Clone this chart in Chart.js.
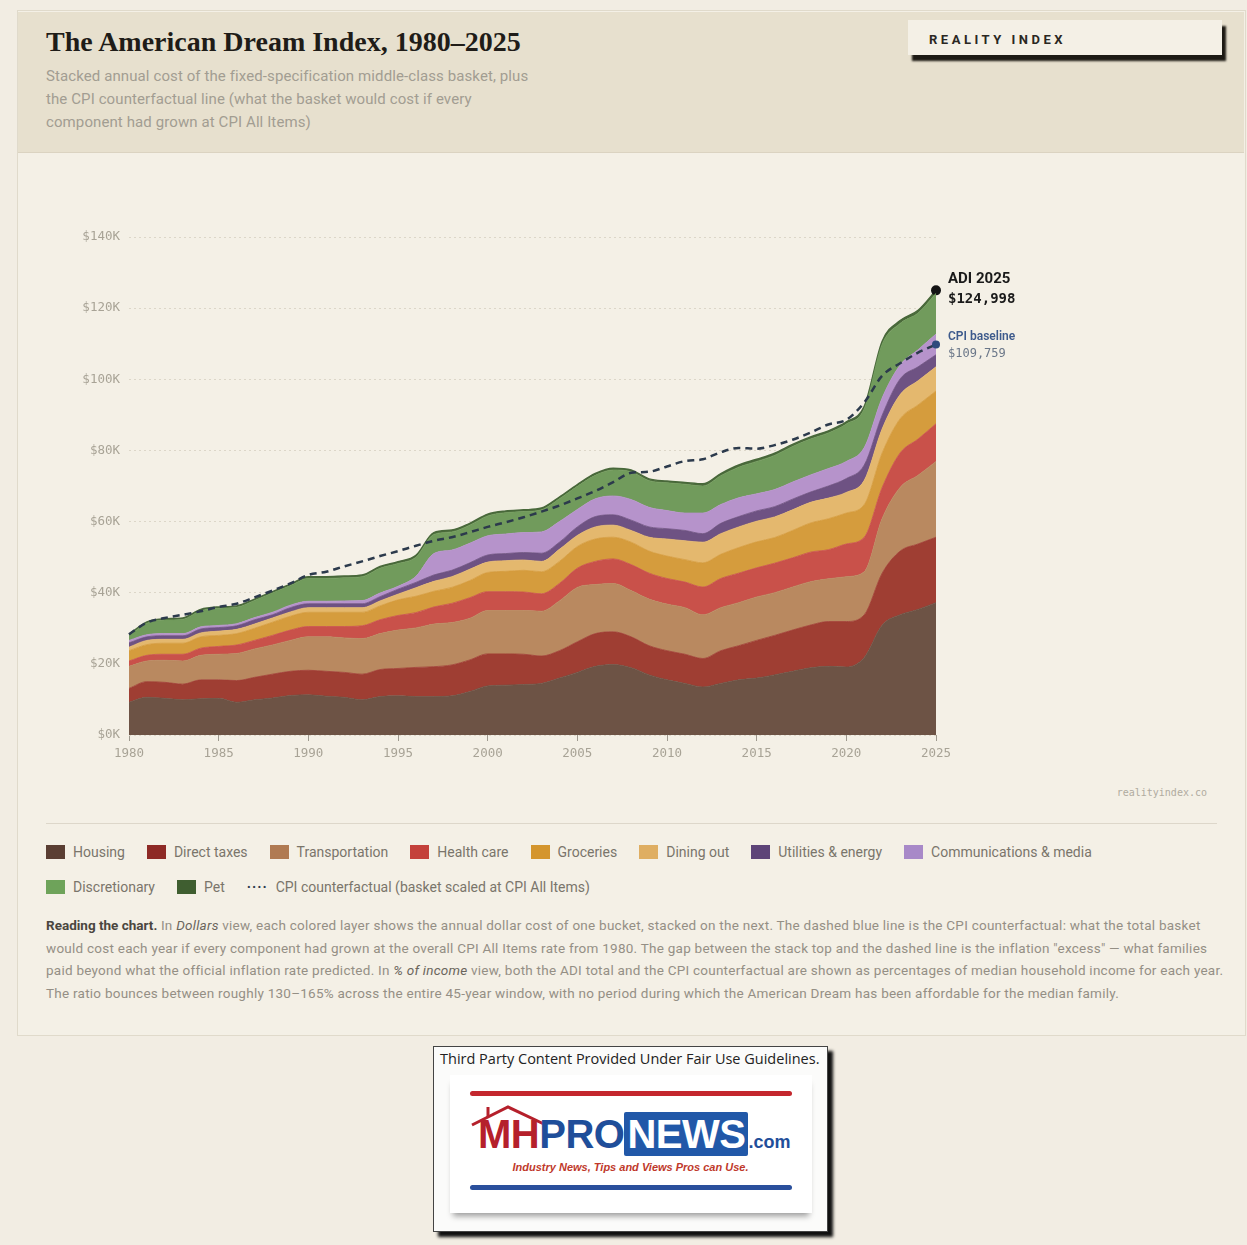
<!DOCTYPE html>
<html>
<head>
<meta charset="utf-8">
<script src="https://cdn.jsdelivr.net/npm/chart.js@4.4.1/dist/chart.umd.min.js"></script>
<style>
  html,body{margin:0;padding:0;}
  body{width:1247px;height:1245px;overflow:hidden;background:#f2ede3;position:relative;font-family:Roboto,"Noto Sans",sans-serif;}
  .abs{position:absolute;}
  #card{left:17px;top:10px;width:1227px;height:1024px;background:#f4f0e6;border:1px solid #e0dacb;}
  #header{left:18px;top:12px;width:1226px;height:140px;background:#e7e0ce;border-bottom:1px solid #dbd3c1;}
  #title{left:46px;top:26px;font-family:"Liberation Serif",serif;font-weight:bold;font-size:28px;line-height:32px;color:#1f1c18;white-space:nowrap;}
  #subtitle{left:46px;top:65px;font-size:15px;line-height:23px;letter-spacing:0.1px;color:#a29d92;white-space:nowrap;}
  #badge{left:908px;top:20px;width:314px;height:35px;background:#f4f0e6;box-shadow:4px 6px 2px #1d1a14;}
  #badge span{position:absolute;left:21px;top:2px;line-height:35px;font-weight:bold;font-size:13px;letter-spacing:3.5px;color:#2a2722;}
  #chartWrap{left:17px;top:160px;width:1228px;height:620px;}
  #src{right:40px;top:787px;font-family:"DejaVu Sans Mono",monospace;font-size:10px;color:#b0ab9f;}
  #sep{left:46px;top:823px;width:1171px;height:1px;background:#ddd7ca;}
  .legrow{left:46px;display:flex;align-items:center;gap:22px;font-size:14px;color:#7a756b;white-space:nowrap;}
  .legitem{display:flex;align-items:center;}
  .sw{width:19px;height:14px;margin-right:8px;}
  .dots{font-weight:bold;letter-spacing:1px;margin-right:8px;color:#2c3a4c;}
  #reading{left:46px;top:914px;font-size:13.5px;letter-spacing:0.25px;line-height:22.7px;color:#948f85;white-space:nowrap;}
  #reading b{color:#4a463f;letter-spacing:0;}
  #reading i{color:#6a655c;}
  #logo{left:433px;top:1046px;width:393px;height:184px;background:#fbfbfa;border:1px solid #444;box-shadow:5px 5px 3px #111;}
</style>
</head>
<body>
<div id="card" class="abs"></div>
<div id="header" class="abs"></div>
<div id="title" class="abs">The American Dream Index, 1980–2025</div>
<div id="subtitle" class="abs">Stacked annual cost of the fixed-specification middle-class basket, plus<br>the CPI counterfactual line (what the basket would cost if every<br>component had grown at CPI All Items)</div>
<div id="badge" class="abs"><span>REALITY INDEX</span></div>
<div id="chartWrap" class="abs"><canvas id="c" width="1228" height="620" style="width:1228px;height:620px;"></canvas></div>
<div id="src" class="abs">realityindex.co</div>
<div id="sep" class="abs"></div>
<div id="leg1" class="abs legrow" style="top:843px;height:18px;"></div>
<div id="leg2" class="abs legrow" style="top:878px;height:18px;"></div>
<div id="reading" class="abs">
<b>Reading the chart.</b> In <i>Dollars</i> view, each colored layer shows the annual dollar cost of one bucket, stacked on the next. The dashed blue line is the CPI counterfactual: what the total basket<br>
would cost each year if every component had grown at the overall CPI All Items rate from 1980. The gap between the stack top and the dashed line is the inflation "excess" — what families<br>
paid beyond what the official inflation rate predicted. In <i>% of income</i> view, both the ADI total and the CPI counterfactual are shown as percentages of median household income for each year.<br>
The ratio bounces between roughly 130–165% across the entire 45-year window, with no period during which the American Dream has been affordable for the median family.
</div>

<div id="logo" class="abs">
  <div class="abs" style="left:6px;top:2px;font-family:'Open Sans',sans-serif;font-size:14.5px;color:#222;white-space:nowrap;">Third Party Content Provided Under Fair Use Guidelines.</div>
  <div class="abs" style="left:16px;top:28px;width:362px;height:138px;background:#fff;box-shadow:0 6px 6px -3px #9a9a9a;"></div>
  <div class="abs" style="left:36px;top:44px;width:322px;height:5px;background:#c4272e;border-radius:3px;"></div>
  <svg class="abs" style="left:34px;top:52px;" width="90" height="30" viewBox="0 0 90 30">
    <polyline points="4,26 40,8 78,26" fill="none" stroke="#b5202b" stroke-width="3"/>
    <line x1="20" y1="18" x2="20" y2="8" stroke="#b5202b" stroke-width="3"/>
  </svg>
  <div class="abs" style="left:44px;top:64px;font-family:'Liberation Sans',sans-serif;font-weight:bold;font-size:40px;line-height:46px;white-space:nowrap;letter-spacing:-0.5px;">
    <span style="color:#b5202b;">MH</span><span style="color:#1f4e9a;">PRO</span><span style="color:#fff;background:#2158a8;padding:0 3px;border-radius:2px;">NEWS</span><span style="color:#1f4e9a;font-size:18px;letter-spacing:0;">.com</span>
  </div>
  <div class="abs" style="left:0;width:393px;top:114px;text-align:center;font-family:'Liberation Sans',sans-serif;font-style:italic;font-weight:bold;font-size:11px;color:#c0392b;">Industry News, Tips and Views Pros can Use.</div>
  <div class="abs" style="left:36px;top:138px;width:322px;height:5px;background:#2a4f9c;border-radius:3px;"></div>
</div>

<script>
// ---- Data (values in $ thousands) ----
const years = ["1980","1981","1982","1983","1984","1985","1986","1987","1988","1989",
               "1990","1991","1992","1993","1994","1995","1996","1997","1998","1999",
               "2000","2001","2002","2003","2004","2005","2006","2007","2008","2009",
               "2010","2011","2012","2013","2014","2015","2016","2017","2018","2019",
               "2020","2021","2022","2023","2024","2025"];

const housing = [9.2,10.6,10.3,9.9,10.2,10.3,9.2,9.9,10.4,11.1,
                 11.3,10.9,10.6,9.9,10.8,11.0,10.8,10.8,11.0,12.2,
                 13.8,14.0,14.2,14.5,16.0,17.6,19.3,19.8,18.9,16.9,
                 15.5,14.5,13.5,14.5,15.5,16.0,16.9,17.9,18.9,19.3,
                 19.1,21.8,30.9,33.8,35.3,37.2];
const directTaxes = [3.9,4.4,4.5,4.4,5.3,5.2,6.1,6.3,6.7,6.8,
                     6.9,7.0,7.0,7.2,7.6,7.7,8.2,8.4,8.7,8.9,
                     9.0,8.8,8.5,7.7,7.7,8.6,9.2,9.2,8.7,8.2,
                     8.2,8.2,8.0,9.2,9.6,10.6,11.1,11.6,12.0,12.6,
                     12.8,12.0,14.6,17.9,18.4,18.4];
const transportation = [6.2,5.8,6.2,6.5,6.9,7.2,7.6,8.0,8.2,8.7,
                        9.4,9.7,9.7,10.0,10.1,10.8,11.1,12.0,11.9,11.7,
                        12.2,12.2,12.3,12.6,14.0,15.3,13.8,13.6,13.0,13.1,
                        13.1,13.1,12.3,12.1,12.1,12.2,12.0,12.1,12.2,12.0,
                        12.6,12.1,15.4,17.9,19.3,21.3];
const healthCare = [1.5,1.6,1.7,1.9,2.0,2.2,2.4,2.4,2.7,2.9,
                    2.9,2.9,3.2,3.6,3.9,4.1,4.3,4.8,5.4,5.8,
                    5.3,5.3,5.2,4.9,4.9,5.4,6.5,6.9,7.3,7.3,
                    7.2,7.2,7.8,8.2,8.3,8.2,8.3,8.2,8.3,8.2,
                    9.2,9.7,8.7,9.7,10.2,10.6];
const groceries = [2.9,3.0,3.1,3.1,3.2,3.1,3.2,3.4,3.7,3.9,
                   4.0,4.0,4.0,3.8,3.9,4.4,4.6,4.4,4.5,4.8,
                   5.4,5.7,6.1,6.2,6.2,6.1,6.3,6.1,6.3,6.2,
                   6.3,6.3,6.8,6.8,7.2,7.3,7.2,7.7,8.2,8.7,
                   8.7,9.2,9.7,9.6,9.6,9.2];
const diningOut = [1.0,1.2,1.1,1.1,1.1,1.2,1.2,1.2,1.2,1.2,
                   1.3,1.3,1.3,1.3,1.4,1.6,2.4,2.8,3.0,3.2,
                   2.9,3.0,2.9,2.9,3.4,3.1,3.4,3.4,3.3,3.9,
                   4.8,5.3,5.8,5.8,5.8,5.8,5.8,5.8,5.8,5.8,
                   5.8,6.8,6.8,6.8,6.8,6.8];
const utilities = [1.2,1.0,1.0,1.0,1.1,1.0,1.0,1.2,0.9,1.2,
                   1.1,1.1,1.1,1.1,1.2,1.4,1.5,1.8,1.8,1.8,
                   2.0,2.0,2.1,2.3,2.0,2.4,2.9,2.9,2.9,2.9,
                   2.9,2.9,2.4,2.9,2.9,2.9,2.9,3.0,2.9,3.4,
                   3.9,4.3,3.8,4.4,3.9,3.4];
const communications = [0.7,0.6,0.6,0.6,0.6,0.6,0.6,0.6,0.7,0.7,
                        0.7,0.7,0.8,0.9,1.0,0.8,1.7,6.0,5.7,5.5,
                        5.4,5.5,5.6,6.0,5.8,4.9,5.0,5.3,5.8,5.5,
                        5.1,4.9,5.8,5.3,5.3,4.8,4.8,4.8,4.8,4.9,
                        4.8,4.9,4.9,3.9,4.8,5.8];
const discretionary = [1.3,3.2,3.8,4.0,4.5,4.8,4.6,4.8,5.4,5.5,
                       6.4,6.4,6.5,6.7,7.0,6.4,5.4,5.4,5.1,5.1,
                       5.6,6.0,5.9,6.2,6.4,6.5,6.6,7.3,7.8,7.5,
                       7.8,8.1,7.6,8.1,8.6,9.1,9.6,10.0,10.1,10.0,
                       10.5,10.9,15.1,11.7,10.3,11.5];
const pet = [0.4,0.4,0.4,0.4,0.4,0.4,0.4,0.4,0.4,0.4,
             0.5,0.5,0.5,0.5,0.5,0.5,0.5,0.5,0.5,0.5,
             0.5,0.5,0.5,0.5,0.5,0.5,0.5,0.5,0.5,0.5,
             0.5,0.5,0.6,0.6,0.6,0.6,0.6,0.6,0.6,0.6,
             0.6,0.7,0.8,0.8,0.8,0.798];
const cpiCounterfactual = [28.3,31.6,32.9,33.8,34.8,36.0,36.9,38.7,40.6,42.6,
                           45.0,45.9,47.4,48.8,50.3,51.7,53.2,54.6,55.6,57.0,
                           58.5,59.8,61.2,62.8,64.5,66.5,68.6,71.1,73.7,74.0,
                           75.5,77.0,77.5,79.5,80.7,80.5,81.5,83.0,85.0,87.3,
                           88.6,93.5,101.0,104.5,107.5,109.759];

const yTicks = [0,20,40,60,80,100,120,140];

const seriesNames = ["Housing","Direct taxes","Transportation","Health care","Groceries","Dining out","Utilities & energy","Communications & media","Discretionary","Pet"];
const seriesData = [housing,directTaxes,transportation,healthCare,groceries,diningOut,utilities,communications,discretionary,pet];
const fillColors = ["#6d5345","#9f3e33","#b98960","#c9514a","#d59c3d","#e4b86e","#6e5283","#b693cb","#719b5c","#4b6a3b"];
const legendColors = ["#5a3e33","#8e2a26","#b07a52","#c4413b","#d4952d","#dfae62","#5e4478","#a889c8","#6ea35a","#3f5e30"];

const N = years.length - 1;

const datasets = seriesData.map((d, i) => ({
  label: seriesNames[i],
  data: d,
  backgroundColor: fillColors[i],
  borderColor: i === 9 ? "#48683a" : fillColors[i],
  borderWidth: i === 9 ? 1.5 : 0.8,
  fill: i === 0 ? "origin" : "-1",
  stack: "adi",
  cubicInterpolationMode: "monotone",
  pointRadius: (ctx) => (i === 9 && ctx.dataIndex === N ? 5 : 0),
  pointBackgroundColor: "#141414",
  pointBorderWidth: 0,
  order: 1
}));
datasets.push({
  label: "CPI counterfactual",
  data: cpiCounterfactual,
  borderColor: "#2c3a4c",
  borderWidth: 2.5,
  borderDash: [7, 5],
  fill: false,
  stack: "cpi",
  cubicInterpolationMode: "monotone",
  pointRadius: (ctx) => (ctx.dataIndex === N ? 4 : 0),
  pointBackgroundColor: "#2d4a7c",
  pointBorderWidth: 0,
  order: -1
});

const mono = "'DejaVu Sans Mono', monospace";

const endLabels = {
  id: "endLabels",
  afterDatasetsDraw(chart) {
    const ctx = chart.ctx;
    const top = chart.getDatasetMeta(9).data[N];
    const cpiPt = chart.getDatasetMeta(10).data[N];
    const total = seriesData.reduce((s, arr) => s + arr[N], 0);
    const fmt = (v) => "$" + Math.round(v * 1000).toLocaleString("en-US");
    ctx.save();
    ctx.textAlign = "left";
    ctx.textBaseline = "middle";
    ctx.fillStyle = "#1a1a1a";
    ctx.font = "bold 15px Roboto, sans-serif";
    ctx.fillText("ADI " + years[N], top.x + 12, top.y - 11);
    ctx.font = "bold 14px " + mono;
    ctx.fillText(fmt(total), top.x + 12, top.y + 9);
    ctx.fillStyle = "#3d5a8c";
    ctx.font = "600 12px Roboto, sans-serif";
    ctx.fillText("CPI baseline", cpiPt.x + 12, cpiPt.y - 8);
    ctx.fillStyle = "#6a7688";
    ctx.font = "12px " + mono;
    ctx.fillText(fmt(cpiCounterfactual[N]), cpiPt.x + 12, cpiPt.y + 9);
    ctx.restore();
  }
};

new Chart(document.getElementById("c"), {
  type: "line",
  data: { labels: years, datasets },
  options: {
    responsive: false,
    animation: false,
    devicePixelRatio: 1,
    layout: { padding: { left: 0, right: 309, top: 77, bottom: 0 } },
    plugins: { legend: { display: false }, tooltip: { enabled: false } },
    elements: { line: { tension: 0 } },
    scales: {
      x: {
        type: "category",
        offset: false,
        afterFit: (s) => { s.height = 45; },
        border: { display: false },
        grid: {
          drawOnChartArea: false,
          drawTicks: true,
          tickLength: 6,
          color: (ctx) => (ctx.index !== undefined && Number(years[ctx.index]) % 5 === 0 ? "#9e998e" : "rgba(0,0,0,0)")
        },
        ticks: {
          autoSkip: false,
          maxRotation: 0,
          padding: 5,
          color: "#a8a396",
          font: { family: mono, size: 12.5 },
          callback: (v, i) => (Number(years[i]) % 5 === 0 ? years[i] : "")
        }
      },
      y: {
        stacked: true,
        min: yTicks[0],
        max: yTicks[yTicks.length - 1],
        afterFit: (s) => { s.width = 112; },
        afterBuildTicks: (s) => { s.ticks = yTicks.map((v) => ({ value: v })); },
        border: { display: false, dash: [2, 3] },
        grid: { color: "#dcd6c8", lineWidth: 1, drawTicks: false },
        ticks: {
          padding: 9,
          color: "#a8a396",
          font: { family: mono, size: 12.5 },
          callback: (v) => "$" + v + "K"
        }
      }
    }
  },
  plugins: [endLabels]
});

// ---- HTML legend built from the series ----
function legItem(name, color) {
  const d = document.createElement("div");
  d.className = "legitem";
  d.innerHTML = '<span class="sw" style="background:' + color + '"></span><span>' + name + "</span>";
  return d;
}
const leg1 = document.getElementById("leg1");
const leg2 = document.getElementById("leg2");
seriesNames.forEach((n, i) => { (i < 8 ? leg1 : leg2).appendChild(legItem(n, legendColors[i])); });
const cpiItem = document.createElement("div");
cpiItem.className = "legitem";
cpiItem.innerHTML = '<span class="dots">····</span><span>CPI counterfactual (basket scaled at CPI All Items)</span>';
leg2.appendChild(cpiItem);
</script>
</body>
</html>
